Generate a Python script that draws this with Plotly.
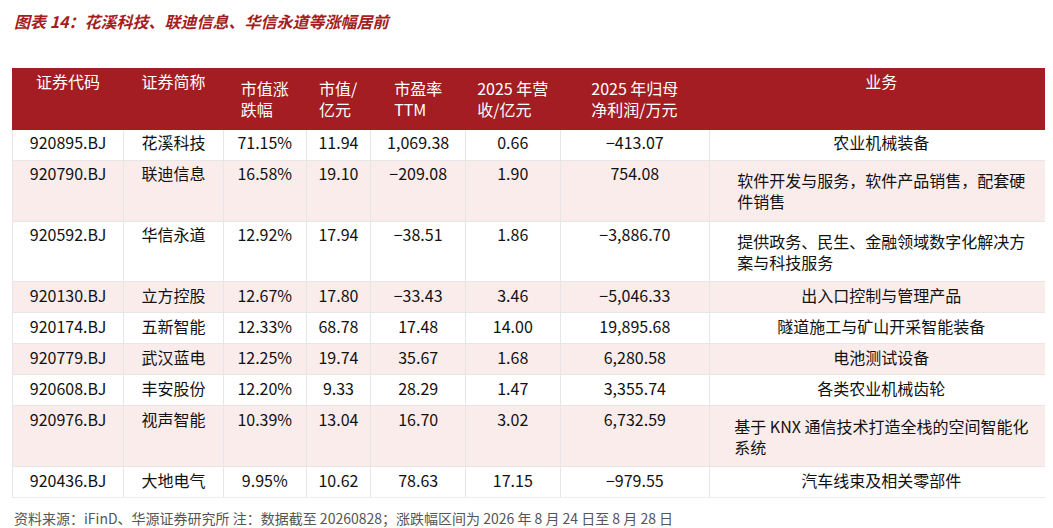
import plotly.graph_objects as go

codes = ["920895.BJ", "920790.BJ", "920592.BJ", "920130.BJ", "920174.BJ",
         "920779.BJ", "920608.BJ", "920976.BJ", "920436.BJ", "920855.BJ"]
names = ["花溪科技", "联迪信息", "华信永道", "立方控股", "五新智能",
         "武汉蓝电", "丰安股份", "视声智能", "大地电气", "浙江大农"]
changes = ["71.15%", "16.58%", "12.92%", "12.67%", "12.33%",
           "12.25%", "12.20%", "10.39%", "9.95%", "9.84%"]
mktcap = ["11.94", "19.10", "17.94", "17.80", "68.78", "19.74", "9.33", "13.04", "10.62", "10.10"]
pe_ttm = ["1,069.38", "−209.08", "−38.51", "−33.43", "17.48", "35.67", "28.29", "16.70", "78.63", "45.66"]
revenue = ["0.66", "1.90", "1.86", "3.46", "14.00", "1.68", "1.47", "3.02", "17.15", "2.68"]
profit = ["−413.07", "754.08", "−3,886.70", "−5,046.33", "19,895.68",
          "6,280.58", "3,355.74", "6,732.59", "−979.55", "3,437.02"]
business = ["农业机械装备",
            "软件开发与服务，软件产品销售，配套硬<br>件销售",
            "提供政务、民生、金融领域数字化解决方<br>案与科技服务",
            "出入口控制与管理产品",
            "隧道施工与矿山开采智能装备",
            "电池测试设备",
            "各类农业机械齿轮",
            "基于 KNX 通信技术打造全栈的空间智能化<br>系统",
            "汽车线束及相关零部件",
            "高压清洗机相关产品"]
headers = ["证券代码", "证券简称", "市值涨<br>跌幅", "市值/<br>亿元", "市盈率<br>TTM",
           "2025 年营<br>收/亿元", "2025 年归母<br>净利润/万元", "业务"]

fills = ["#ffffff" if i % 2 == 0 else "#fbecec" for i in range(len(codes))]

fig = go.Figure(go.Table(
    columnwidth=[112, 100, 83, 65, 95, 95, 150, 345],
    header=dict(values=headers, fill_color="#a31d22",
                font=dict(color="white", size=16, family="Noto Sans CJK SC"),
                align="center", height=56, line=dict(color="#a31d22", width=1)),
    cells=dict(values=[codes, names, changes, mktcap, pe_ttm, revenue, profit, business],
               fill_color=[fills] * 8,
               font=dict(color="#111111", size=16, family="Noto Sans CJK SC"),
               align="center", height=31, line=dict(color="#e6e6e6", width=1)),
    domain=dict(x=[0.004, 0.993], y=[0.0, 0.94]),
))

fig.update_layout(
    width=1053, height=528, paper_bgcolor="white",
    margin=dict(l=0, r=0, t=33, b=38),
    annotations=[
        dict(text="<b><i>图表 14：花溪科技、联迪信息、华信永道等涨幅居前</i></b>",
             x=0.004, y=1.0, xref="paper", yref="paper", yanchor="bottom",
             xanchor="left", yshift=6, showarrow=False,
             font=dict(color="#a31d22", size=16, family="Noto Sans CJK SC")),
        dict(text="资料来源：iFinD、华源证券研究所 注：数据截至 20260828；涨跌幅区间为 2026 年 8 月 24 日至 8 月 28 日",
             x=0.004, y=0, xref="paper", yref="paper", yanchor="top",
             xanchor="left", yshift=-8, showarrow=False,
             font=dict(color="#555555", size=14, family="Noto Sans CJK SC")),
    ],
)

fig.write_html("out.html")
